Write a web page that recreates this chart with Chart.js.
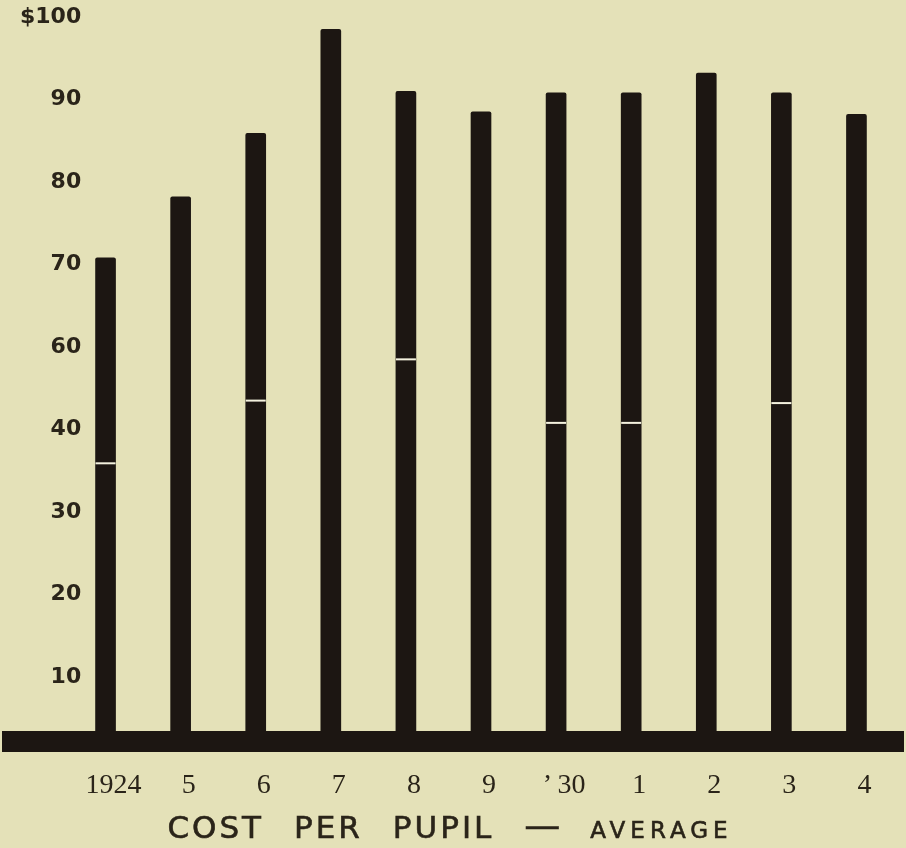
<!DOCTYPE html>
<html>
<head>
<meta charset="utf-8">
<script src="https://cdn.jsdelivr.net/npm/chart.js@4.4.1/dist/chart.umd.min.js"></script>
<style>
  html, body { margin: 0; padding: 0; background: #e4e1b8; }
  #wrap { width: 906px; height: 848px; }
</style>
</head>
<body>
<div id="wrap"><canvas id="chartCost" width="906" height="848"></canvas></div>
<script>
// values
const years = ['1924', '5', '6', '7', '8', '9', '\u2019\u200930', '1', '2', '3', '4'];
const costPerPupil = [70.8, 78.2, 85.9, 98.5, 91.0, 88.5, 90.8, 90.8, 93.2, 90.8, 88.2];
// thin light breaks across some of the bars (null = none)
const breakAt = [45.9, null, 53.5, null, 58.5, null, 50.8, 50.8, null, 53.2, null];
// tick positions and the labels printed there (the print skips "50")
const yTickValues = [100, 90, 80, 70, 60, 50, 40, 30, 20];
const yTickLabels = ['$100', '90', '80', '70', '60', '40', '30', '20', '10'];
const axisFloor = 13.45;

const INK = '#1c1612';
const PAPER = '#e4e1b8';
const TEXT = '#2a2419';

const printPlugin = {
    id: 'print',
    beforeDraw(chart) {
        const c = chart.ctx;
        c.save();
        c.fillStyle = PAPER;
        c.fillRect(0, 0, chart.width, chart.height);
        c.restore();
    },
    afterDatasetsDraw(chart) {
        const c = chart.ctx;
        const y = chart.scales.y;
        const bars = chart.getDatasetMeta(0).data;
        c.save();
        // breaks in the bars
        c.fillStyle = '#f3f1de';
        bars.forEach((bar, i) => {
            if (breakAt[i] == null) return;
            const py = y.getPixelForValue(breakAt[i]);
            c.fillRect(bar.x - bar.width / 2, py - 1, bar.width, 2);
        });
        // heavy base line across the page
        const base = y.getPixelForValue(axisFloor);
        c.fillStyle = INK;
        c.fillRect(2, base, chart.width - 4, 21);
        c.restore();
    },
    afterDraw(chart) {
        // title: capitals, then "average" in small capitals
        const c = chart.ctx;
        const parts = [
            ['COST', '31px "DejaVu Sans"', 3],
            ['PER', '31px "DejaVu Sans"', 3],
            ['PUPIL', '31px "DejaVu Sans"', 3],
            ['\u2014', '36px "DejaVu Sans"', 0],
            ['AVERAGE', '23px "DejaVu Sans"', 5]
        ];
        const gap = 30;
        c.save();
        c.fillStyle = TEXT;
        c.strokeStyle = TEXT;
        c.lineWidth = 0.6;
        c.textBaseline = 'alphabetic';
        const widths = parts.map(([t, f, ls]) => {
            c.font = f;
            c.letterSpacing = ls + 'px';
            return c.measureText(t).width;
        });
        const total = widths.reduce((a, b) => a + b, 0) + gap * (parts.length - 1);
        let x = chart.width / 2 - 3 - total / 2;
        parts.forEach(([t, f, ls], i) => {
            c.font = f;
            c.letterSpacing = ls + 'px';
            c.fillText(t, x, 838);
            c.strokeText(t, x, 838);
            x += widths[i] + gap;
        });
        c.restore();
    }
};

new Chart(document.getElementById('chartCost').getContext('2d'), {
    type: 'bar',
    data: {
        labels: years,
        datasets: [{
            data: costPerPupil,
            backgroundColor: INK,
            barThickness: 20,
            borderRadius: { topLeft: 2, topRight: 2 },
            borderSkipped: 'bottom'
        }]
    },
    options: {
        responsive: false,
        animation: false,
        devicePixelRatio: 1,
        layout: { padding: { top: 17, right: 12, bottom: 0, left: 0 } },
        plugins: { legend: { display: false }, tooltip: { enabled: false } },
        scales: {
            x: {
                grid: { display: false },
                border: { display: false },
                ticks: {
                    color: TEXT,
                    font: { family: 'Liberation Serif', size: 28 },
                    padding: 30,
                    labelOffset: 8,
                    maxRotation: 0,
                    autoSkip: false
                },
                afterFit: s => { s.height = 117; }
            },
            y: {
                min: axisFloor,
                max: 100,
                grid: { display: false },
                border: { display: false },
                afterBuildTicks: s => { s.ticks = yTickValues.map(v => ({ value: v })); },
                ticks: {
                    color: TEXT,
                    font: { family: 'DejaVu Sans', size: 22, weight: 'bold' },
                    mirror: true,
                    crossAlign: 'far',
                    padding: -48,
                    callback: (v, i) => yTickLabels[i]
                },
                afterFit: s => { s.width = 68; }
            }
        }
    },
    plugins: [printPlugin]
});
</script>
</body>
</html>
